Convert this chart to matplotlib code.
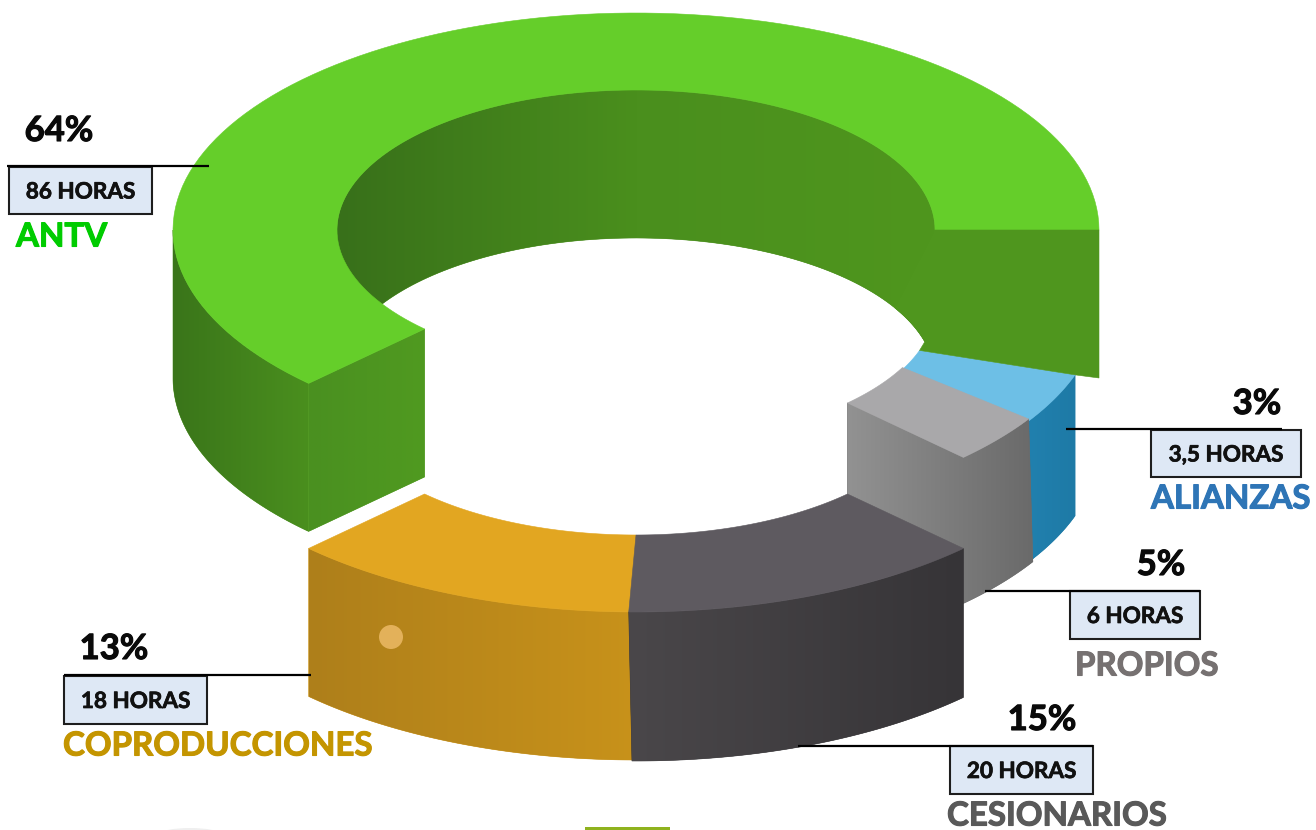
import numpy as np
import matplotlib
matplotlib.use("Agg")
import matplotlib.pyplot as plt
import matplotlib.patheffects as pe
from matplotlib.patches import Polygon, Rectangle, Circle, Ellipse
from matplotlib.colors import LinearSegmentedColormap

# ---- data ----
categories = ["ANTV", "COPRODUCCIONES", "CESIONARIOS", "PROPIOS", "ALIANZAS"]
shares = [64, 13, 15, 5, 3]
hours = ["86 HORAS", "18 HORAS", "20 HORAS", "6 HORAS", "3,5 HORAS"]
sweeps_deg = [225, 45, 45, 13, 13.5]   # drawn sweep of every slice, in ring degrees

# ---- style ----
label_colors = ["#00CC00", "#C49500", "#595959", "#767171", "#2E75B6"]
top_colors = ["#65CE2A", "#E2A621", "#5E5A60", "#A9A8AA", "#6DBFE6"]
wall_colors = [("#38701A", "#4F961E"), ("#AE7F1B", "#C8921A"), ("#4A474A", "#363437"),
               ("#929292", "#6A6A6A"), ("#2180AE", "#1E7AA6")]
lifts = [0, 165, 165, 74, 76]
depths = [148, 148, 149, 146, 141]
CX, CY = 636, 230
RO = (463, 217)
RI = (299, 140)

pct_xy = [(59, 131), (114, 649), (1042, 720), (1161, 565), (1257, 404)]
line_xy = [((7, 209), 166), ((64, 311), 675), ((798, 1093), 745.5), ((985, 1200), 590.5), ((1066, 1282), 429)]
box_xy = [(9, 167, 143, 47), (64, 676, 143, 48), (950, 746, 143, 48), (1070, 591, 130, 48), (1151, 430, 150, 47)]
name_xy = [(16, 237), (63, 746), (947, 816), (1075, 666), (1151, 499)]

plt.rcParams["font.family"] = ["Lato", "DejaVu Sans"]
fig = plt.figure(figsize=(13.16, 8.30), dpi=100)
ax = fig.add_axes([0, 0, 1, 1])
ax.set_xlim(0, 1316)
ax.set_ylim(830, 0)
ax.axis("off")

_z = [1]


def nz():
    _z[0] += 1
    return _z[0]


def arc(r, t0, t1, dy=0, n=120):
    t = np.radians(np.linspace(t0, t1, n))
    return np.column_stack([CX + r[0] * np.cos(t), CY + dy + r[1] * np.sin(t)])


def pt(r, t, dy=0):
    return arc(r, t, t, dy, 1)


def flat(poly, color):
    ax.add_patch(Polygon(poly, closed=True, fc=color, ec=color, lw=0.4, zorder=nz()))


def grad(poly, *colors):
    cmap = LinearSegmentedColormap.from_list("g", list(colors))
    flat(poly, colors[len(colors) // 2])
    x0, x1 = poly[:, 0].min(), poly[:, 0].max()
    y0, y1 = poly[:, 1].min(), poly[:, 1].max()
    im = ax.imshow(np.linspace(0, 1, 256)[None, :], cmap=cmap, aspect="auto",
                   extent=(x0, x1, y1, y0), interpolation="bilinear", zorder=nz())
    patch = Polygon(poly, closed=True, transform=ax.transData, fc="none", ec="none")
    ax.add_patch(patch)
    im.set_clip_path(patch)
    ax.set_xlim(0, 1316)
    ax.set_ylim(830, 0)


# slice limits walking from the right end over the top and round the front
ends = [360.0]
for s in sweeps_deg:
    ends.append(ends[-1] - s)
spans = [(ends[i], ends[i + 1]) for i in range(5)]

# ---- back-lit slices first: alianzas, propios ----
a0, a1 = spans[4]          # 32 -> 18.5
p0, p1 = spans[3]          # 45 -> 32
INNER_SKEW = -5            # the shared edge leans: inner end is 5 degrees off
BOTTOM_SKEW = -1           # the shared edge leans: lower end is 1 degree off

d = depths[4]; L = lifts[4]
grad(np.vstack([arc(RO, a1, a0, L), arc(RO, a0 + BOTTOM_SKEW, a1, L + d)]), *wall_colors[4])
flat(np.vstack([arc(RO, a1, a0, L), arc(RI, a0 + INNER_SKEW, a1, L)]), top_colors[4])

d = depths[3]; L = lifts[3]
grad(np.vstack([pt(RI, p0, L), arc(RO, p0, p1, L), arc(RO, p1 + BOTTOM_SKEW, p0, L + d),
                pt(RI, p0, L + d)]), *wall_colors[3])
flat(np.vstack([arc(RO, p1, p0, L), arc(RI, p0, p1 + INNER_SKEW, L)]), top_colors[3])

# ---- antv ----
g0, g1 = spans[0]            # 360 -> 135 going over the top
d = depths[0]
grad(np.vstack([arc(RI, 180, 360), arc(RI, 345, 180, d)]), "#38701A", "#4A8F1D", "#4F961E")
grad(np.vstack([arc(RO, g1, 180), arc(RO, 180, g1, d)]), "#3A751A", "#4A8F1E")
grad(np.vstack([pt(RO, g1), pt(RI, g1), pt(RI, g1, d), pt(RO, g1, d)]), "#4A9020", "#509A20")
flat(np.vstack([arc(RO, g0, g1), arc(RI, g1, g0)]), top_colors[0])
end_face = np.vstack([pt(RI, 0), pt(RO, 0), pt(RO, 0, d), pt(RO, a1, lifts[4]),
                      pt(RI, a1, lifts[4]), arc(RI, 345, 330, d)])
flat(end_face, "#4F961E")

# ---- front slices ----
t0, t1 = spans[1]
L = lifts[1]; d = depths[1]
grad(np.vstack([arc(RO, t0, t1, L), arc(RO, t1, t0, L + d)]), *wall_colors[1])
flat(np.vstack([arc(RO, t0, t1, L), arc(RI, t1, t0, L)]), top_colors[1])

t0, t1 = spans[2]
L = lifts[2]; d = depths[2]
grad(np.vstack([arc(RO, t0 + 0.9, t1, L), arc(RO, t1, t0 + 0.5, L + d)]), *wall_colors[2])
flat(np.vstack([arc(RO, t0 + 0.9, t1, L), arc(RI, t1, t0, L)]), top_colors[2])

# small artefacts of the source picture
ax.add_patch(Circle((391, 637), 12, fc="#E3B15A", ec="none", zorder=nz()))
ax.add_patch(Rectangle((585, 827), 85, 5, fc="#8FB21E", ec="none", zorder=nz()))
ax.add_patch(Ellipse((190, 834), 60, 12, fc="#EFEFEF", ec="none", zorder=nz()))


def heavy(color, w):
    return [pe.withStroke(linewidth=w, foreground=color)]


# ---- labels ----
for i in range(5):
    bx, by, bw, bh = box_xy[i]
    ax.add_patch(Rectangle((bx, by), bw, bh, fc="#DEE8F5", ec="#1E1E1E", lw=1.5, zorder=nz()))
    ax.text(bx + bw / 2, by + bh / 2 + 1.5, hours[i], ha="center", va="center",
            fontsize=16.2, fontweight="bold", color="#111111", zorder=nz(),
            path_effects=heavy("#111111", 0.5))
    (lx0, lx1), ly = line_xy[i]
    ax.plot([lx0, lx1], [ly, ly], color="black", lw=1.6, solid_capstyle="butt", zorder=nz())
    ax.text(*pct_xy[i], f"{shares[i]}%", ha="center", va="center",
            fontsize=25, fontweight="bold", color="#0A0A0A", zorder=nz(),
            path_effects=heavy("#0A0A0A", 0.8))
    ax.text(name_xy[i][0], name_xy[i][1], categories[i], ha="left", va="center",
            fontsize=23.8, fontweight="bold", color=label_colors[i], zorder=nz(),
            path_effects=heavy(label_colors[i], 0.8))

fig.savefig("out.png", dpi=100, facecolor="white")
